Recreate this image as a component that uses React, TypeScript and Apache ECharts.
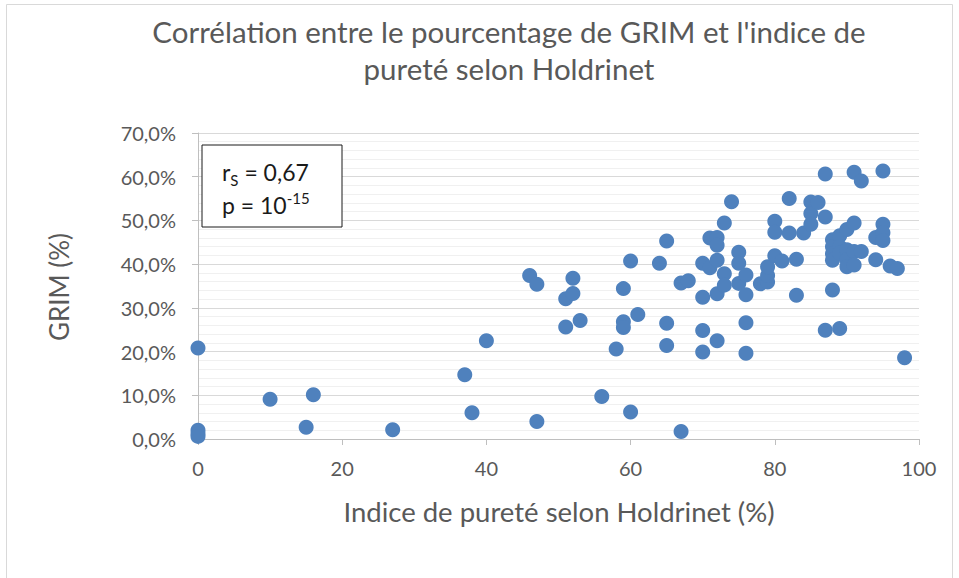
import React, { useEffect, useRef } from "react";
import * as echarts from "echarts";

const titleLines = ["Corrélation entre le pourcentage de GRIM et l'indice de", "pureté selon Holdrinet"];
const xAxisTitle = "Indice de pureté selon Holdrinet (%)";
const yAxisTitle = "GRIM (%)";
const xTicks = [0, 20, 40, 60, 80, 100];
const yTicks = [0, 10, 20, 30, 40, 50, 60, 70];

// Holdrinet purity index (%)
const purity = [
  0, 0, 0, 0, 10, 15, 16, 27, 37, 38, 40, 46, 47, 47, 51, 51, 52, 52, 53, 56,
  58, 59, 59, 59, 60, 60, 61, 64, 65, 65, 65, 67, 67, 68, 70, 70, 70, 70, 71, 71,
  72, 72, 72, 72, 72, 73, 73, 73, 74, 75, 75, 75, 76, 76, 76, 76, 78, 79, 79, 79,
  80, 80, 80, 81, 82, 82, 83, 83, 84, 85, 85, 85, 86, 87, 87, 87, 88, 88, 88, 88,
  88, 89, 89, 89, 89, 90, 90, 90, 90, 91, 91, 91, 91, 92, 92, 94, 94, 95, 95, 95,
  95, 96, 97, 98,
];
// GRIM percentage (%)
const grim = [
  20.8, 2.0, 1.2, 0.6, 9.1, 2.7, 10.1, 2.1, 14.7, 6.0, 22.5, 37.4, 35.4, 4.0, 32.1, 25.6, 36.8, 33.3, 27.1, 9.7,
  20.6, 34.4, 26.8, 25.5, 40.7, 6.2, 28.5, 40.2, 45.3, 26.5, 21.4, 35.7, 1.7, 36.2, 40.2, 32.4, 24.8, 19.9, 46.0, 39.2,
  46.1, 44.3, 40.9, 33.2, 22.5, 49.4, 37.8, 35.2, 54.3, 42.7, 40.2, 35.6, 37.5, 33.0, 26.6, 19.6, 35.5, 35.9, 37.4, 39.4,
  49.8, 47.3, 41.9, 40.7, 55.0, 47.1, 41.1, 32.9, 47.1, 54.2, 51.6, 49.1, 54.1, 60.6, 50.8, 24.9, 45.6, 44.0, 42.4, 40.9,
  34.1, 46.5, 44.0, 42.5, 25.3, 47.9, 43.3, 41.0, 39.4, 61.0, 49.4, 42.9, 39.8, 59.0, 42.9, 46.1, 41.0, 61.3, 49.1, 47.2,
  45.4, 39.6, 39.0, 18.6,
];

const statR = "0,67";
const statPExp = "-15";

export default function App() {
  const ref = useRef<HTMLDivElement>(null);
  useEffect(() => {
    if (!ref.current) return;
    const chart = echarts.init(ref.current, null, { renderer: "svg" });
    const font = "Lato";
    const grey = "#595959";
    const points = purity.map((x, i) => [x, grim[i]]);
    chart.setOption({
      animation: false,
      backgroundColor: "#ffffff",
      textStyle: { fontFamily: font },
      grid: { left: 198, right: 40, top: 133, bottom: 139, containLabel: false },
      xAxis: {
        type: "value",
        min: xTicks[0],
        max: xTicks[xTicks.length - 1],
        interval: 20,
        axisLine: { show: true, lineStyle: { color: "#bfbfbf", width: 1 } },
        axisTick: { show: true, length: 6, lineStyle: { color: "#bfbfbf" } },
        axisLabel: { color: grey, fontSize: 20, fontFamily: font, margin: 19 },
        splitLine: { show: false },
      },
      yAxis: {
        type: "value",
        min: yTicks[0],
        max: yTicks[yTicks.length - 1],
        interval: 10,
        axisLine: { show: true, lineStyle: { color: "#bfbfbf", width: 1 } },
        axisTick: { show: true, length: 6, lineStyle: { color: "#bfbfbf" } },
        axisLabel: {
          color: grey,
          fontSize: 20,
          fontFamily: font,
          margin: 22,
          formatter: (v: number) => v.toFixed(1).replace(".", ",") + "%",
        },
        splitLine: { show: true, lineStyle: { color: "#d9d9d9", width: 1 } },
        minorTick: { show: false, splitNumber: 5 },
        minorSplitLine: { show: true, lineStyle: { color: "#f0f0f0", width: 1 } },
      },
      series: [
        {
          type: "scatter",
          data: points,
          symbol: "circle",
          symbolSize: 15,
          itemStyle: { color: "#4F81BD", opacity: 1 },
          z: 3,
        },
      ],
      graphic: [
        {
          type: "rect",
          shape: { x: 6.5, y: 4.5, width: 946, height: 590 },
          style: { fill: "none", stroke: "#d9d9d9", lineWidth: 1 },
          silent: true,
          z: -1,
        },
        {
          type: "text",
          x: 509,
          y: 31,
          style: {
            text: titleLines[0],
            font: `29.5px ${font}`,
            fill: grey,
            textAlign: "center",
            textVerticalAlign: "middle",
          },
        },
        {
          type: "text",
          x: 509,
          y: 68,
          style: {
            text: titleLines[1],
            font: `29.5px ${font}`,
            fill: grey,
            textAlign: "center",
            textVerticalAlign: "middle",
          },
        },
        {
          type: "text",
          x: 559,
          y: 511,
          style: {
            text: xAxisTitle,
            font: `27.5px ${font}`,
            fill: grey,
            textAlign: "center",
            textVerticalAlign: "middle",
          },
        },
        {
          type: "text",
          x: 59,
          y: 287,
          rotation: Math.PI / 2,
          style: {
            text: yAxisTitle,
            font: `26px ${font}`,
            fill: grey,
            textAlign: "center",
            textVerticalAlign: "middle",
          },
        },
        {
          type: "rect",
          shape: { x: 202, y: 145, width: 140, height: 82 },
          style: { fill: "#ffffff", stroke: "#1a1a1a", lineWidth: 1 },
          z: 10,
        },
        {
          type: "text",
          x: 222,
          y: 172,
          z: 11,
          style: {
            text: `{a|r}{sub|S}{a| = ${statR}}`,
            textVerticalAlign: "middle",
            rich: {
              a: { fontSize: 23, fontFamily: font, fill: "#1a1a1a", lineHeight: 30, verticalAlign: "middle" },
              sub: { fontSize: 15, fontFamily: font, fill: "#1a1a1a", lineHeight: 20, verticalAlign: "bottom" },
            },
          },
        },
        {
          type: "text",
          x: 222,
          y: 205,
          z: 11,
          style: {
            text: `{a|p = 10}{sup|${statPExp}}`,
            textVerticalAlign: "middle",
            rich: {
              a: { fontSize: 23, fontFamily: font, fill: "#1a1a1a", lineHeight: 30, verticalAlign: "middle" },
              sup: { fontSize: 15, fontFamily: font, fill: "#1a1a1a", lineHeight: 16, verticalAlign: "top" },
            },
          },
        },
      ],
    });
    return () => chart.dispose();
  }, []);
  return (
    <div
      ref={ref}
      style={{ position: "absolute", left: 0, top: 0, width: 959, height: 578 }}
    />
  );
}
